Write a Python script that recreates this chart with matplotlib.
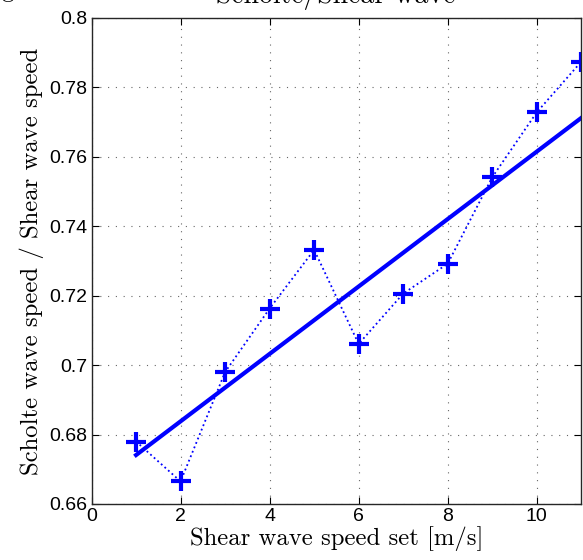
import numpy as np
import matplotlib.pyplot as plt
from matplotlib.ticker import FuncFormatter

# measured speed ratio per shear wave speed set
speed_set = [1, 2, 3, 4, 5, 6, 7, 8, 9, 10, 11]
ratio = [0.678, 0.6665, 0.698, 0.7163, 0.7332, 0.7061, 0.7206, 0.7292, 0.7541, 0.7728, 0.7874]

# linear fit drawn in the figure (end points)
fit_x = [1, 11]
fit_y = [0.6741, 0.7712]

x_ticks = [0, 2, 4, 6, 8, 10]
y_ticks = [0.66, 0.68, 0.70, 0.72, 0.74, 0.76, 0.78, 0.80]

plt.rcParams['font.family'] = ['Liberation Sans', 'DejaVu Sans']

fig = plt.figure(figsize=(5.83, 5.60), dpi=100)
ax = fig.add_axes([0.157, 0.1, 0.84, 0.868])

ax.plot(speed_set, ratio, color='b', linestyle=':', linewidth=1.3,
        marker='+', markersize=14, markeredgewidth=3)
ax.plot(fit_x, fit_y, color='b', linewidth=3)

ax.set_xlim(0, 11)
ax.set_ylim(0.66, 0.8)
ax.set_xticks(x_ticks)
ax.set_yticks(y_ticks)
ax.yaxis.set_major_formatter(FuncFormatter(lambda v, p: '%g' % round(v, 2)))
ax.tick_params(direction='in', top=True, right=True, length=5, labelsize=14, pad=3)
ax.grid(True, linestyle=(0, (1, 6)), color='0.4', linewidth=0.8)
for s in ax.spines.values():
    s.set_linewidth(1.0)
    s.set_color('0.15')

ax.set_xlabel('Shear wave speed set [m/s]', family='cmr10', fontsize=17.8, labelpad=1)
ax.set_ylabel('Scholte wave speed / Shear wave speed', family='cmr10', fontsize=17.8, labelpad=4)

fig.text(0.575, 1 - 2.5 / 560, 'Scholte/Shear wave', family='cmr10', fontsize=20,
         ha='center', va='baseline')
fig.text(0.003, 1 + 3 / 560, 'g', family='cmr10', fontsize=17.8, ha='left', va='baseline')

fig.savefig('out.png', dpi=100)
